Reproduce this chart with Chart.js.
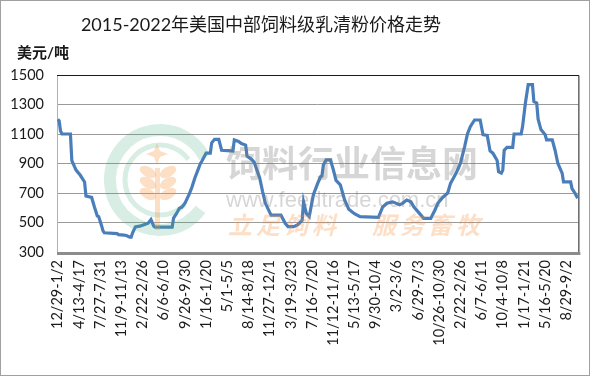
<!DOCTYPE html>
<html><head><meta charset="utf-8">
<script src="https://cdn.jsdelivr.net/npm/chart.js@4.4.0/dist/chart.umd.min.js"></script>
<style>html,body{margin:0;padding:0;background:#fff}#wrap{position:relative;width:592px;height:377px}</style>
</head><body><div id="wrap"><canvas id="c" width="592" height="377"></canvas></div>
<script>
const titleText = '2015-2022年美国中部饲料级乳清粉价格走势';
const unitText = '美元/吨';
const tickLabels = ['12/29-1/2','4/13-4/17','7/27-7/31','11/9-11/13','2/22-2/26','6/6-6/10','9/26-9/30','1/16-1/20','5/1-5/5','8/14-8/18','11/27-12/1','3/19-3/23','7/16-7/20','11/12-11/16','5/13-5/17','9/30-10/4','3/2-3/6','6/29-7/3','10/26-10/30','2/22-2/26','6/7-6/11','10/4-10/8','1/17-1/21','5/16-5/20','8/29-9/2'];
const weeksPerLabel = 15;
const weekCount = 369;
const yTicks = [300,500,700,900,1100,1300,1500];
const weekIndex = [
0,1,2,3,9,10,13,16,19,20,
24,26,28,29,31,32,33,42,43,47,
49,51,52,53,55,58,61,64,66,68,
69,81,82,84,86,88,90,92,93,95,
97,99,101,102,105,108,109,111,114,116,
124,125,128,130,133,134,137,139,141,143,
145,147,151,158,161,163,167,170,173,174,
176,178,181,184,186,187,188,190,193,195,
197,200,203,206,210,214,227,230,233,237,
242,244,247,250,252,256,259,264,267,269,
272,276,278,280,282,285,288,290,292,295,
299,301,304,306,308,311,312,314,315,316,
318,322,323,328,329,331,333,336,337,339,
340,342,345,346,350,352,354,357,358,363,
364,366,368];
const price = [
1200,1190,1120,1100,1100,920,855,820,775,680,
670,605,545,540,480,445,430,425,418,415,
410,400,400,430,470,475,485,495,520,475,
468,468,530,560,595,605,630,670,690,740,
800,850,900,915,970,970,1040,1064,1064,990,
985,1060,1050,1035,1025,950,930,910,855,800,
710,630,550,550,495,472,472,485,515,640,
560,540,690,765,810,815,890,925,925,860,
785,755,655,590,560,540,535,605,630,640,
620,630,652,640,607,562,528,528,585,630,
665,700,765,800,835,900,1015,1100,1150,1195,
1195,1095,1090,985,970,920,845,835,855,990,
1010,1010,1100,1100,1150,1310,1435,1435,1320,1310,
1200,1130,1095,1060,1060,990,900,835,775,775,
730,700,665];

const FONT = "Lato, 'Noto Sans CJK SC', sans-serif";

const framePlugin = {
  id: 'frame',
  beforeDatasetsDraw(chart) {
    const {ctx, chartArea: a} = chart;
    ctx.save();
    ctx.strokeStyle = '#b0b0b0'; ctx.lineWidth = 1;
    ctx.beginPath(); ctx.moveTo(a.left + 0.5, a.top); ctx.lineTo(a.left + 0.5, a.bottom); ctx.stroke();
    ctx.strokeStyle = '#1a1a1a';
    ctx.beginPath(); ctx.moveTo(a.left, a.top + 0.5); ctx.lineTo(a.right + 0.5, a.top + 0.5); ctx.lineTo(a.right + 0.5, a.bottom); ctx.stroke();
    ctx.strokeStyle = '#8c8c8c'; ctx.lineWidth = 3;
    ctx.beginPath(); ctx.moveTo(a.left, a.bottom + 1.5); ctx.lineTo(a.right + 2, a.bottom + 1.5); ctx.stroke();
    ctx.restore();
  },
  afterDraw(chart) {
    const ctx = chart.ctx;
    ctx.save();
    ctx.strokeStyle = '#a0a0a0'; ctx.lineWidth = 1;
    ctx.strokeRect(0.5, 0.5, 589, 375);
    ctx.fillStyle = '#1a1a1a';
    ctx.font = '18px ' + FONT;
    ctx.textAlign = 'center'; ctx.textBaseline = 'middle';
    ctx.fillText(titleText, 261, 25);
    ctx.font = 'bold 15px ' + FONT;
    ctx.textAlign = 'left';
    ctx.fillText(unitText, 17, 53);
    ctx.restore();
  }
};

const watermarkPlugin = {
  id: 'watermark',
  afterDatasetsDraw(chart) {
    const ctx = chart.ctx;
    ctx.save();
    ctx.strokeStyle = 'rgba(60,170,120,0.2)';
    ctx.lineWidth = 12;
    ctx.beginPath(); ctx.arc(160, 180, 50, 0.2 * Math.PI, 1.85 * Math.PI); ctx.stroke();
    ctx.lineWidth = 5;
    ctx.beginPath(); ctx.arc(160, 180, 35, 0.25 * Math.PI, 1.8 * Math.PI); ctx.stroke();
    ctx.fillStyle = 'rgba(245,150,60,0.3)';
    ctx.beginPath();
    ctx.moveTo(157, 143); ctx.lineTo(160, 151); ctx.lineTo(168, 154); ctx.lineTo(160, 157);
    ctx.lineTo(157, 165); ctx.lineTo(154, 157); ctx.lineTo(146, 154); ctx.lineTo(154, 151); ctx.closePath(); ctx.fill();
    for (let k = 0; k < 3; k++) {
      const y = 172 + k * 11;
      ctx.beginPath(); ctx.ellipse(148, y, 9, 5, 0.5, 0, 2 * Math.PI); ctx.fill();
      ctx.beginPath(); ctx.ellipse(168, y, 9, 5, -0.5, 0, 2 * Math.PI); ctx.fill();
    }
    ctx.fillRect(155, 168, 5, 62);
    ctx.textBaseline = 'middle'; ctx.textAlign = 'left';
    ctx.fillStyle = 'rgba(120,120,120,0.3)';
    ctx.font = "bold 36px 'Noto Sans CJK SC', sans-serif";
    ctx.fillText('饲料行业信息网', 226, 163, 258);
    ctx.font = "22px 'Liberation Sans', sans-serif";
    ctx.fillText('www.feedtrade.com.cn', 226, 201, 258);
    ctx.fillStyle = 'rgba(245,140,50,0.28)';
    ctx.font = "italic bold 24px 'Noto Sans CJK SC', sans-serif";
    ['立','足','饲','料'].forEach((c, k) => ctx.fillText(c, 228 + k * 28, 225));
    ['服','务','畜','牧'].forEach((c, k) => ctx.fillText(c, 372 + k * 28, 225));
    ctx.restore();
  }
};

new Chart(document.getElementById('c'), {
  type: 'line',
  data: {
    datasets: [{
      data: weekIndex.map((w, k) => ({x: w, y: price[k]})),
      borderColor: '#4a7ebb',
      borderWidth: 3.2,
      pointRadius: 0,
      tension: 0,
      fill: false
    }]
  },
  options: {
    responsive: false,
    animation: false,
    devicePixelRatio: 1,
    layout: {padding: {top: 75, right: 10, left: 0, bottom: 0}},
    plugins: {legend: {display: false}, tooltip: {enabled: false}, title: {display: false}},
    scales: {
      x: {
        type: 'linear',
        min: -0.5,
        max: weekCount - 0.5,
        grid: {display: false, drawTicks: false},
        border: {display: false},
        afterBuildTicks: (axis) => { axis.ticks = tickLabels.map((_, k) => ({value: k * weeksPerLabel})); },
        afterFit: (axis) => { axis.height = 125; },
        ticks: {
          autoSkip: false, maxRotation: 90, minRotation: 90, padding: 8,
          color: '#1a1a1a', font: {family: FONT, size: 14.5},
          callback: (v) => tickLabels[Math.round(v / weeksPerLabel)]
        }
      },
      y: {
        min: 300, max: 1500,
        afterBuildTicks: (axis) => { axis.ticks = yTicks.map(v => ({value: v})); },
        afterFit: (axis) => { axis.width = 57; },
        grid: {
          drawTicks: false,
          color: (c) => (c.tick && (c.tick.value === 300 || c.tick.value === 1500)) ? 'rgba(0,0,0,0)' : '#9a9a9a',
          lineWidth: 1
        },
        border: {display: false},
        ticks: {padding: 13, color: '#1a1a1a', font: {family: FONT, size: 14.5}, callback: (v) => String(v)}
      }
    }
  },
  plugins: [framePlugin, watermarkPlugin]
});
</script>
</body></html>
